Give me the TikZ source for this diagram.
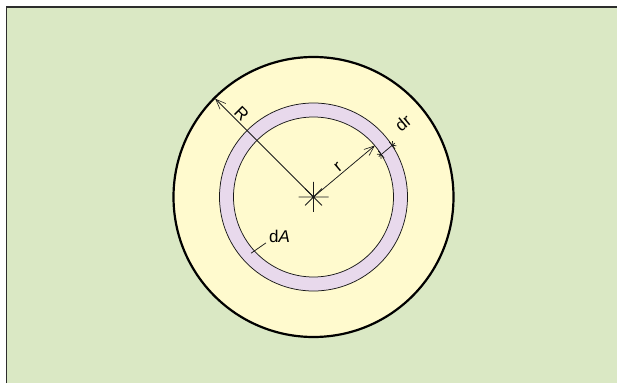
\documentclass[tikz,border=0pt]{standalone}
\usepackage{fontspec}
\setmainfont{Liberation Sans}
\usetikzlibrary{arrows.meta,calc}
\definecolor{bggreen}{RGB}{218,232,196}
\definecolor{diskyellow}{RGB}{255,250,206}
\definecolor{ringlav}{RGB}{232,217,236}
\definecolor{framegray}{RGB}{45,45,45}
\tikzset{
  thinline/.style={line width=0.75pt, draw=black!90},
  dimarrow/.style={thinline, -{Straight Barb[length=10pt,width=8pt,line width=0.6pt]}},
  lbl/.style={font=\fontsize{17}{20}\selectfont, inner sep=1pt},
}
\begin{document}
\begin{tikzpicture}[x=1pt,y=1pt]
\useasboundingbox (0,0) rectangle (618,383);
% background
\fill[bggreen] (6.5,0) rectangle (617,376);
\draw[framegray, line width=1.5pt] (6.5,0) -- (6.5,376) -- (617,376);
% centre
\coordinate (c) at (313.5,186);
% outer disk
\draw[fill=diskyellow, line width=2.2pt] (c) circle[radius=140];
% ring
\fill[ringlav, even odd rule] (c) circle[radius=94] (c) circle[radius=80];
\draw[thinline] (c) circle[radius=94];
\draw[thinline] (c) circle[radius=80];
% star at centre
\coordinate (h1) at ($(c)+(-15,0)$);  \coordinate (h2) at ($(c)+(15,0)$);
\coordinate (v1) at ($(c)+(0,-15)$);  \coordinate (v2) at ($(c)+(0,15)$);
\coordinate (d1) at ($(c)+(45:12)$);  \coordinate (d2) at ($(c)+(225:12)$);
\coordinate (d3) at ($(c)+(135:12)$); \coordinate (d4) at ($(c)+(-45:12)$);
\draw[thinline] (h1) -- (h2) (v1) -- (v2) (d1) -- (d2) (d3) -- (d4);
% R
\coordinate (Rtip) at ($(c)+(135:139)$);
\draw[dimarrow] (c) -- node[lbl, pos=0.79, sloped, above=1pt] (Rl) {R} (Rtip);
% r
\coordinate (rtip) at ($(c)+(40:80)$);
\draw[dimarrow] (c) -- node[lbl, pos=0.48, sloped, above=1pt] (rl) {r} (rtip);
% dr dimension, offset parallel line
\coordinate (o) at ($(c)+(-50:11)$);
\coordinate (da) at ($(o)+(40:76)$);
\coordinate (db) at ($(o)+(40:97)$);
\coordinate (t1) at ($(o)+(40:79.2)$);
\coordinate (t2) at ($(o)+(40:93.4)$);
\draw[thinline] (da) -- (db);
\draw[thinline] ($(t1)+(130:4.5)$) -- ($(t1)+(-50:4.5)$);
\draw[thinline] ($(t2)+(130:4.5)$) -- ($(t2)+(-50:4.5)$);
\draw[thinline] ($(t1)+(40:-3)+(130:3)$) -- (t1) -- ($(t1)+(40:-3)+(-50:3)$);
\draw[thinline] ($(t2)+(40:3)+(130:3)$) -- (t2) -- ($(t2)+(40:3)+(-50:3)$);
\node[lbl, rotate=40] (drl) at ($(c)+(40:116)+(130:-1)$) {dr};
% dA
\coordinate (dAs) at ($(c)+(222:84)$);
\coordinate (dAe) at ($(c)+(224:66)$);
\draw[thinline] (dAs) -- (dAe);
\node[lbl, anchor=south west] (dAl) at ($(dAe)+(2,-1)$) {d\textit{A}};
\end{tikzpicture}
\end{document}
